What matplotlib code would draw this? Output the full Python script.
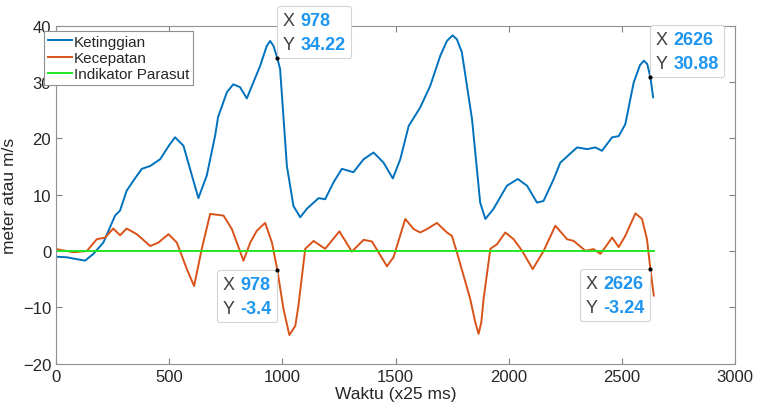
import matplotlib
matplotlib.use("Agg")
import matplotlib.pyplot as plt
from matplotlib.offsetbox import TextArea, HPacker, VPacker, AnnotationBbox

plt.rcParams['font.family'] = ['Liberation Sans', 'DejaVu Sans']

# Ketinggian (altitude)
t_alt = [0, 47, 128, 165, 209, 261, 283, 312, 342, 379, 416, 460, 500, 526, 563, 592,
         629, 666, 703, 716, 755, 783, 813, 843, 902, 931, 946, 961, 978, 990,
         1020, 1049, 1079, 1108, 1160, 1189, 1226, 1263, 1314, 1359, 1403, 1447,
         1488, 1521, 1558, 1609, 1653, 1698, 1727, 1752, 1771, 1793, 1838, 1874,
         1897, 1933, 1992, 2040, 2081, 2125, 2154, 2199, 2228, 2302, 2346, 2383,
         2412, 2457, 2486, 2515, 2552, 2580, 2597, 2612, 2626, 2638]
alt = [-1.0, -1.1, -1.7, -0.5, 1.5, 6.3, 7.2, 10.7, 12.5, 14.6, 15.1, 16.3, 18.8, 20.2,
       18.7, 14.6, 9.4, 13.4, 20.5, 23.8, 28.2, 29.6, 29.1, 27.1, 32.9, 36.4,
       37.3, 36.4, 34.22, 32.3, 15.1, 8.0, 6.0, 7.5, 9.4, 9.2, 12.2, 14.6, 14.0,
       16.3, 17.5, 15.7, 12.9, 16.3, 22.2, 25.5, 29.3, 34.7, 37.3, 38.3, 37.6,
       35.3, 23.4, 8.6, 5.7, 7.5, 11.6, 12.8, 11.6, 8.6, 8.9, 12.8, 15.7, 18.4,
       18.1, 18.4, 17.8, 20.2, 20.4, 22.5, 29.9, 33.0, 33.8, 33.2, 30.88, 27.3]

# Kecepatan (velocity)
t_vel = [0, 77, 136, 180, 217, 253, 283, 312, 357, 416, 452, 497, 534, 578, 610,
         644, 681, 740, 777, 828, 858, 887, 924, 954, 978, 1005, 1031, 1057, 1071,
         1101, 1138, 1189, 1252, 1307, 1359, 1396, 1462, 1491, 1543, 1580, 1609,
         1639, 1683, 1727, 1749, 1771, 1830, 1852, 1867, 1879, 1889, 1919, 1948,
         1985, 2022, 2059, 2106, 2154, 2206, 2258, 2287, 2339, 2375, 2405, 2427,
         2457, 2486, 2515, 2560, 2589, 2611, 2626, 2641]
vel = [0.35, -0.2, 0.0, 2.1, 2.4, 4.0, 2.8, 4.0, 3.0, 0.9, 1.5, 3.0, 1.5, -3.2,
       -6.2, 0.4, 6.6, 6.3, 3.9, -1.7, 1.5, 3.6, 5.0, 1.5, -3.4, -10.3, -14.9,
       -13.3, -9.7, 0.4, 1.8, 0.4, 3.5, -0.1, 2.0, 1.7, -2.7, -1.1, 5.7, 3.9, 3.3,
       3.9, 5.0, 3.3, 2.7, -0.2, -8.5, -12.6, -14.7, -12.6, -8.5, 0.4, 1.2, 3.3,
       2.1, 0.05, -3.2, 0.0, 4.5, 2.1, 1.8, 0.05, 0.35, -0.5, 0.7, 2.4, 0.7, 2.7,
       6.7, 5.7, 2.1, -3.24, -7.9]

# Indikator Parasut
t_para = [0, 2640]
para = [0, 0]

# data tips: x, y, which corner of the box sits on the point
tips = [(978, 34.22, (0, 0)), (2626, 30.88, (0, 0)),
        (978, -3.4, (1, 1)), (2626, -3.24, (1, 1))]

fig = plt.figure(figsize=(7.57, 4.14), dpi=100)
ax = fig.add_axes([0.074, 0.119, 0.897, 0.8164])

ax.plot(t_alt, alt, color='#0072BD', lw=1.4, label='Ketinggian')
ax.plot(t_vel, vel, color='#D95319', lw=1.4, label='Kecepatan')
ax.plot(t_para, para, color='#22e622', lw=1.4, label='Indikator Parasut')

ax.set_xlim(0, 3000)
ax.set_ylim(-20, 40)
ax.set_xticks(range(0, 3001, 500))
ax.set_yticks(range(-20, 41, 10))
ax.tick_params(direction='in', top=True, right=True, length=4,
               colors='#808080', labelcolor='#262626', labelsize=12)
for s in ax.spines.values():
    s.set_color('#909090')
    s.set_linewidth(0.8)

ax.set_xlabel('Waktu (x25 ms)', fontsize=12.5, color='#262626', labelpad=2)
ax.set_ylabel('meter atau m/s', fontsize=12.5, color='#262626', labelpad=4)

leg = ax.legend(loc='upper left', bbox_to_anchor=(44 / 757, 1 - 32 / 414),
                bbox_transform=fig.transFigure, fontsize=11, handlelength=1.6,
                handletextpad=0.1, borderpad=0.25, labelspacing=0.15,
                fancybox=False, framealpha=1, borderaxespad=0)
leg.get_frame().set_edgecolor('#909090')
leg.get_frame().set_linewidth(0.8)
for txt in leg.get_texts():
    txt.set_color('#262626')

for x, y, align in tips:
    ax.plot([x], [y], 'o', color='black', ms=2, zorder=5)
    lab = dict(color='#404040', fontsize=13)
    val = dict(color='#1e96f0', fontsize=13, fontweight='bold')
    row1 = HPacker(children=[TextArea('X', textprops=lab),
                             TextArea('%g' % x, textprops=val)], pad=0, sep=4)
    row2 = HPacker(children=[TextArea('Y', textprops=lab),
                             TextArea('%g' % y, textprops=val)], pad=0, sep=4)
    box = VPacker(children=[row1, row2], align='left', pad=0, sep=5)
    off = 4 if align == (0, 0) else -4
    ab = AnnotationBbox(box, (x, y), xybox=(off, off), boxcoords='offset points',
                        box_alignment=align, frameon=True, pad=0.4,
                        annotation_clip=False,
                        bboxprops=dict(boxstyle='round,pad=0.4,rounding_size=0.2',
                                       fc='white', ec='#d4d4d4', lw=0.8))
    ax.add_artist(ab)

fig.savefig('out.png', dpi=100)
